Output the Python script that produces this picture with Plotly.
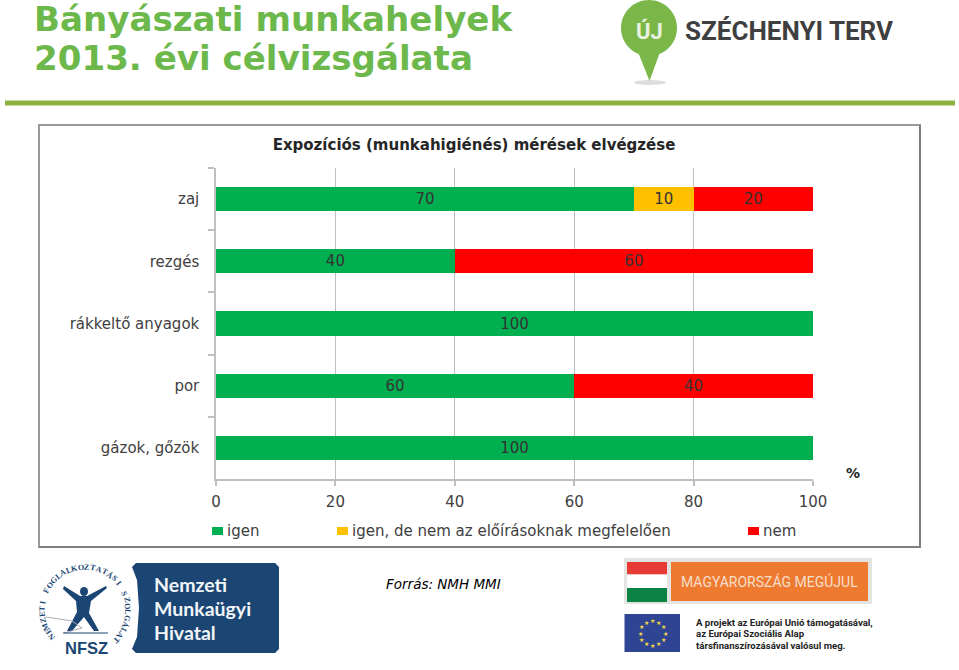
import math
import plotly.graph_objects as go

categories = ["zaj", "rezgés", "rákkeltő anyagok", "por", "gázok, gőzök"]
igen = [70, 40, 100, 60, 100]
igen_de_nem = [10, None, None, None, None]
nem = [20, 60, None, 40, None]
series_names = ["igen", "igen, de nem az előírásoknak megfelelően", "nem"]
series_colors = ["#00B050", "#FFC000", "#FF0000"]
x_ticks = [0, 20, 40, 60, 80, 100]
page_title = ["Bányászati munkahelyek", "2013. évi célvizsgálata"]
chart_title = "Expozíciós (munkahigiénés) mérések elvégzése"
source_text = "Forrás: NMH MMI"

W, H = 959, 670
FONT = "DejaVu Sans"


def px(x):
    return x / W


def py(y):
    return 1 - y / H


def path(points, close=True):
    s = "M" + " L".join(f"{px(a):.5f},{py(b):.5f}" for a, b in points)
    return s + (" Z" if close else "")


shapes, notes = [], []


def rect(x0, y0, x1, y1, fill, line=None, lw=0, layer="below"):
    shapes.append(dict(type="rect", xref="paper", yref="paper", x0=px(x0), x1=px(x1), y0=py(y0), y1=py(y1),
                       fillcolor=fill, line=dict(color=line or fill, width=lw), layer=layer))


def poly(points, fill, line=None, lw=0, close=True):
    shapes.append(dict(type="path", xref="paper", yref="paper", path=path(points, close),
                       fillcolor=fill if close else "rgba(0,0,0,0)",
                       line=dict(color=line or fill, width=lw), layer="below"))


def text(x, y, s, size, color="#000000", family=FONT, anchor="left", angle=0, height=None):
    notes.append(dict(xref="paper", yref="paper", x=px(x), y=py(y), text=s, showarrow=False, xanchor=anchor,
                      yanchor="middle", textangle=angle, font=dict(size=size, color=color, family=family),
                      borderpad=0, borderwidth=0, height=height))


# page heading
text(34, 19, "<b>" + page_title[0] + "</b>", 34.1, "#6DB84B", "DejaVu Sans", height=38)
text(34, 58, "<b>" + page_title[1] + "</b>", 34.1, "#6DB84B", "DejaVu Sans")
rect(5, 100.5, 955, 105.5, "#8DB33F")

# chart frame
rect(39, 125, 920, 547, "#FFFFFF", "#9A9A9A", 2)
poly([(920, 125), (920, 547), (39, 547)], "rgba(0,0,0,0)", "#7F7F7F", 2, close=False)

# Széchenyi logo
circle = [(649 + 28 * math.cos(a * math.pi / 180), 28 + 28 * math.sin(a * math.pi / 180)) for a in range(0, 360, 6)]
shapes.append(dict(type="circle", xref="paper", yref="paper", x0=px(634), x1=px(666), y0=py(85), y1=py(80),
                   fillcolor="#DDDDDD", line=dict(width=0), layer="below"))
poly(circle, "#7AB648")
poly([(638, 52), (660, 52), (649.5, 81)], "#7AB648")
text(649, 31, "<b>ÚJ</b>", 22, "#EAF2E0", "Roboto", "center")
text(685, 31, "<b>SZÉCHENYI TERV</b>", 26, "#3F3F41", "Roboto")

# source
text(386, 584, "<i>" + source_text + "</i>", 13.5, "#000000", "DejaVu Sans")

# NFSZ logo
ring = "NEMZETI FOGLALKOZTATÁSI SZOLGÁLAT"
for i, ch in enumerate(ring):
    ang = -129 + 263 * i / (len(ring) - 1)
    r = ang * math.pi / 180
    text(85 + 43 * math.sin(r), 610 - 43 * math.cos(r), "<b>" + ch + "</b>", 8, "#1B4674", "Liberation Serif", "center", ang)
poly([(64, 586), (80, 596), (87, 596), (106, 586), (107, 588), (91, 601), (89, 613), (99, 631), (94, 631),
      (84, 617), (72, 631), (67, 631), (77, 612), (76, 601), (63, 589)], "#1B4674")
shapes.append(dict(type="circle", xref="paper", yref="paper", x0=px(80), x1=px(88), y0=py(596), y1=py(587),
                   fillcolor="#1B4674", line=dict(width=0), layer="below"))
poly([(46, 617), (72, 621), (82, 628), (64, 633)], "rgba(0,0,0,0)", "#A9A9B5", 1, close=False)
poly([(63, 633), (108, 633)], "#1B4674", "#1B4674", 1.2, close=False)
text(86, 648, "<b>NFSZ</b>", 16.5, "#1B4674", "Liberation Sans", "center")
poly([(136, 563), (275, 563), (279, 567), (279, 649), (275, 653), (136, 653), (132, 649), (137, 637), (139, 608),
      (137, 580), (132, 567)], "#1B4674")
text(154, 584, "<b>Nemzeti</b>", 19.5, "#F2F5F8", "Lato")
text(154, 608, "<b>Munkaügyi</b>", 19.5, "#F2F5F8", "Lato")
text(154, 632, "<b>Hivatal</b>", 19.5, "#F2F5F8", "Lato")

# Hungarian panel
rect(624, 558, 872, 604, "#E3E3DF")
rect(627, 562, 667, 574.5, "#E53B34")
rect(627, 574.5, 667, 588, "#FFFFFF")
rect(627, 588, 667, 602, "#0B8345")
rect(671, 562, 868, 601, "#EE7A30")
text(769.5, 581, "MAGYARORSZÁG MEGÚJUL", 14, "#F6DFCB", "Roboto", "center")

# EU panel
rect(624.5, 614, 680, 652, "#2F4593")
for k in range(12):
    a = k * math.pi / 6
    text(652.5 + 12.5 * math.sin(a), 633 - 12.5 * math.cos(a), "★", 6, "#F2D84B", "DejaVu Sans", "center")
text(696, 622, "<b>A projekt az Európai Unió támogatásával,</b>", 9.6, "#222222", "Roboto")
text(696, 633.5, "<b>az Európai Szociális Alap</b>", 9.6, "#222222", "Roboto")
text(696, 645, "<b>társfinanszírozásával valósul meg.</b>", 9.6, "#222222", "Roboto")

# chart unit and hand-placed legend keys
text(853, 473, "<b>%</b>", 14, "#262626", FONT, "center")
legend_left = [212, 337, 748]
for name, color, left in zip(series_names, series_colors, legend_left):
    rect(left, 527, left + 11, 535, color)
    text(left + 15, 530.5, name, 15, "#404040", FONT)

fig = go.Figure()
for values, name, color in zip([igen, igen_de_nem, nem], series_names, series_colors):
    fig.add_trace(go.Bar(
        y=categories, x=values, name=name, orientation="h", marker=dict(color=color, line=dict(width=0)),
        text=values, textposition="inside", insidetextanchor="middle", textangle=0, cliponaxis=False,
        textfont=dict(family=FONT, size=15, color="#333333"), showlegend=False,
    ))

fig.update_layout(
    width=W, height=H, margin=dict(l=0, r=0, t=0, b=0, pad=0), autosize=False, barmode="stack", bargap=0.61,
    paper_bgcolor="#FFFFFF", plot_bgcolor="rgba(0,0,0,0)", shapes=shapes, annotations=notes,
    title=dict(text="<b>" + chart_title + "</b>", x=px(474), xanchor="center", y=py(145), yanchor="middle",
               font=dict(family=FONT, size=15, color="#262626")),
    font=dict(family=FONT),
    xaxis=dict(domain=[px(216), px(813)], range=[0, 100], tickvals=x_ticks, ticks="outside", ticklen=5,
               tickcolor="#BFBFBF", tickwidth=1.5, showgrid=True, gridcolor="#BFBFBF", gridwidth=1.2,
               showline=True, linecolor="#BFBFBF", linewidth=1.5, zeroline=False, automargin=False,
               tickfont=dict(size=15, color="#404040", family=FONT), ticklabelstandoff=3),
    yaxis=dict(domain=[py(479), py(168)], autorange="reversed", type="category", tickson="boundaries", ticks="outside",
               ticklen=6, tickcolor="#BFBFBF", tickwidth=1.5, showline=True, linecolor="#BFBFBF", linewidth=1.5,
               automargin=False, showgrid=False, tickfont=dict(size=15, color="#404040", family=FONT), ticklabelstandoff=12),
)
fig.write_html("out.html", config={"displayModeBar": False},
               post_script="document.body.style.margin='0';document.body.style.overflow='hidden';")
